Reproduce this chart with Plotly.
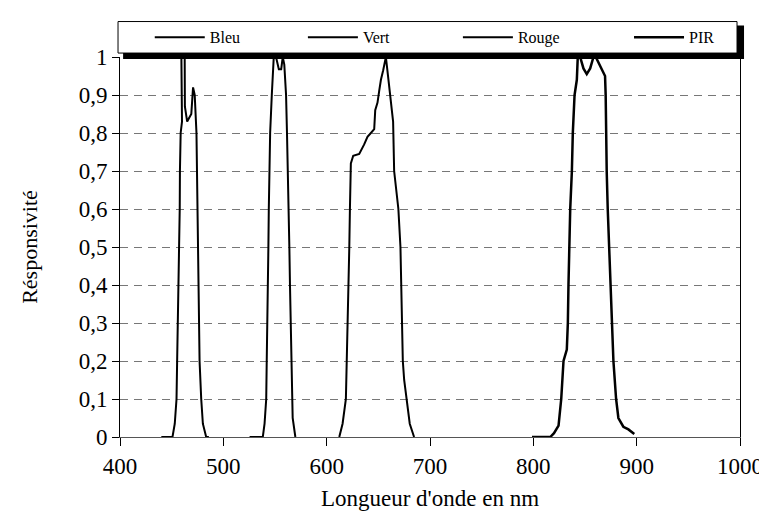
import plotly.graph_objects as go

# ── Spectral responsivity ──────────────────────────────────────────
bleu_nm = [440, 450.8, 453, 454.7, 455.3, 456, 457, 457.5, 457.8, 458, 458.7, 460, 459.4,
           462.6, 462.8, 465, 469, 470.7, 472.3, 474, 475, 476, 477, 478.6, 480.2, 483.4, 486]
bleu_r = [0, 0, 0.035, 0.1, 0.2, 0.3, 0.4, 0.5, 0.6, 0.7, 0.8, 0.83, 1.0,
          1.0, 0.87, 0.83, 0.85, 0.92, 0.90, 0.80, 0.60, 0.40, 0.20, 0.10, 0.035, 0, 0]

vert_nm = [525.4, 538.2, 539.9, 541.5, 542, 542.7, 543.3, 543.6, 544, 544.6, 545.3, 546.9,
           547.9, 548.8, 551, 553.7, 556, 557.5, 559, 560.7, 561.6, 562.6, 563.2, 563.9,
           564.5, 565.2, 565.8, 566.5, 567.1, 569.7]
vert_r = [0, 0, 0.035, 0.1, 0.2, 0.3, 0.4, 0.5, 0.6, 0.7, 0.8, 0.9,
          0.97, 1.0, 1.0, 0.968, 0.968, 1.0, 0.98, 0.9, 0.8, 0.7, 0.6, 0.5,
          0.4, 0.3, 0.2, 0.1, 0.05, 0]

rouge_nm = [612.2, 615.4, 618.6, 619.6, 620.6, 621.2, 621.9, 622.5, 623.1, 623.4, 625.7,
            631.5, 636.3, 639.5, 642.8, 646, 647, 649.2, 650.8, 652.5, 654.7, 657.3,
            659.8, 662.1, 664.3, 665.3, 669.4, 671.4, 672.4, 673, 673.7, 675, 677.2,
            680.4, 684.6]
rouge_r = [0, 0.035, 0.1, 0.2, 0.3, 0.4, 0.5, 0.6, 0.7, 0.72, 0.74,
           0.745, 0.77, 0.79, 0.80, 0.81, 0.86, 0.88, 0.91, 0.94, 0.965, 1.0,
           0.94, 0.89, 0.83, 0.70, 0.60, 0.50, 0.40, 0.30, 0.20, 0.15, 0.10,
           0.035, 0]

pir_nm = [798.7, 816.4, 820, 824.4, 827, 829.2, 832.4, 833.4, 834, 834.7, 835.7, 837.3,
          838.2, 839.9, 842.1, 843, 845.3, 848.5, 851.7, 855, 858.2, 860.4, 866.2,
          869.4, 870, 870.3, 871, 872, 873.3, 874.6, 875.9, 877.5, 880.1, 882.3,
          887.1, 892, 897.7]
pir_r = [0, 0, 0.01, 0.03, 0.1, 0.2, 0.23, 0.3, 0.4, 0.5, 0.6, 0.7,
         0.8, 0.9, 0.94, 1.0, 1.0, 0.97, 0.955, 0.97, 1.0, 1.0, 0.97,
         0.95, 0.9, 0.8, 0.7, 0.6, 0.5, 0.4, 0.3, 0.2, 0.1, 0.05,
         0.027, 0.02, 0.008]

# (name, x, y, line width, legend id, legend x in paper coords)
series = [
    ("Bleu", bleu_nm, bleu_r, 2, "legend", 0.048),
    ("Vert", vert_nm, vert_r, 2, "legend2", 0.295),
    ("Rouge", rouge_nm, rouge_r, 2, "legend3", 0.545),
    ("PIR", pir_nm, pir_r, 2.5, "legend4", 0.821),
]

_FONT = "Liberation Serif, Times New Roman, serif"

fig = go.Figure()
legends = {}
for name, x, y, w, leg, leg_x in series:
    fig.add_trace(
        go.Scatter(
            x=x,
            y=y,
            mode="lines",
            name=name,
            legend=leg,
            showlegend=True,
            line={"color": "black", "width": w},
        )
    )
    # one single-item legend per trace so each entry sits where the reference has it
    legends[leg] = {
        "orientation": "h",
        "x": leg_x,
        "xanchor": "left",
        "y": 1.0518,
        "yanchor": "middle",
        "bgcolor": "rgba(0,0,0,0)",
        "borderwidth": 0,
        "font": {"size": 16, "family": _FONT},
        "itemwidth": 50,
    }

# legend frame + drop shadow, in paper coords (plot area is 620 x 386 px)
fig.add_shape(type="rect", xref="paper", yref="paper", x0=0.005, x1=1.0065, y0=0.9948, y1=1.0829,
              fillcolor="black", line={"width": 0}, layer="above")
fig.add_shape(type="rect", xref="paper", yref="paper", x0=-0.0032, x1=0.9952, y0=1.0104, y1=1.0933,
              fillcolor="white", line={"color": "black", "width": 1}, layer="above")

# the page body adds an 8px margin, so the figure is 8px smaller and shifted
fig.update_layout(
    width=759,
    height=519,
    margin={"l": 112, "r": 27, "t": 43, "b": 90},
    paper_bgcolor="white",
    plot_bgcolor="white",
    showlegend=True,
    separators=", ",
    font={"family": _FONT, "color": "black", "size": 23},
    **legends,
    xaxis={
        "range": [400, 1000],
        "dtick": 100,
        "tick0": 400,
        "showgrid": False,
        "zeroline": False,
        "showline": True,
        "linecolor": "#555",
        "linewidth": 1,
        "ticks": "outside",
        "ticklen": 8,
        "tickcolor": "black",
        "tickfont": {"size": 23},
        "title": {"text": "Longueur d'onde en nm", "font": {"size": 23}, "standoff": 12},
        "automargin": False,
    },
    yaxis={
        "range": [0, 1],
        "dtick": 0.1,
        "showgrid": True,
        "gridcolor": "#777",
        "griddash": "8px,6px",
        "gridwidth": 1,
        "zeroline": False,
        "showline": True,
        "mirror": True,
        "linecolor": "black",
        "linewidth": 1,
        "ticks": "outside",
        "ticklen": 7,
        "tickcolor": "black",
        "tickfont": {"size": 23},
        "title": {"text": "Résponsivité", "font": {"size": 22}, "standoff": 34},
        "automargin": False,
    },
)

fig.write_html("out.html")
